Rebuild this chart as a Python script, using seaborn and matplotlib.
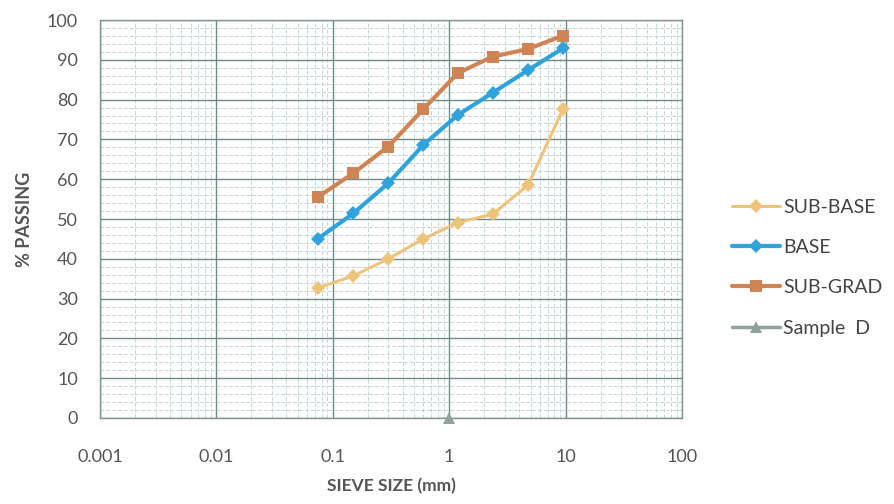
import numpy as np
import pandas as pd
import matplotlib
matplotlib.use("Agg")
import matplotlib.pyplot as plt
from matplotlib.ticker import FixedLocator, MultipleLocator, LogLocator, NullFormatter
import seaborn as sns

# sieve sizes (mm) and % passing
sieve = [0.075, 0.15, 0.3, 0.6, 1.18, 2.36, 4.75, 9.5]
sub_base = [32.7, 35.7, 40.0, 45.0, 49.1, 51.2, 58.5, 77.6]
base = [45.1, 51.4, 59.0, 68.6, 76.1, 81.7, 87.4, 92.9]
sub_grad = [55.6, 61.5, 68.2, 77.6, 86.6, 90.8, 92.7, 96.1]
sample_d_x = [1]
sample_d_y = [0]

x_ticks = [0.001, 0.01, 0.1, 1, 10, 100]
x_tick_labels = ["0.001", "0.01", "0.1", "1", "10", "100"]

sns.set_style("white")
plt.rcParams["font.family"] = ["Lato", "DejaVu Sans"]

fig = plt.figure(figsize=(8.94, 5.04), dpi=100)
ax = fig.add_axes([100 / 894, 86 / 504, 582 / 894, 398 / 504])

series = [
    ("SUB-BASE", sub_base, "#EEC47A", "D", 7),
    ("BASE", base, "#2FA3DA", "D", 7),
    ("SUB-GRAD", sub_grad, "#CF8456", "s", 9),
]
for name, vals, col, mk, ms in series:
    df = pd.DataFrame({"size": sieve, "passing": vals})
    sns.lineplot(data=df, x="size", y="passing", ax=ax, color=col, lw=3 if name != "SUB-BASE" else 2.2,
                 marker=mk, markersize=ms, markeredgewidth=0, label=name)

df_d = pd.DataFrame({"size": sample_d_x, "passing": sample_d_y})
sns.lineplot(data=df_d, x="size", y="passing", ax=ax, color="#8FA39C", lw=2.5,
             marker="^", markersize=9, markeredgewidth=0, label="Sample  D", clip_on=False, zorder=5)

ax.set_xscale("log")
ax.set_xlim(0.001, 100)
ax.set_ylim(0, 100)
ax.xaxis.set_major_locator(FixedLocator(x_ticks))
ax.set_xticklabels(x_tick_labels)
ax.xaxis.set_minor_locator(LogLocator(base=10, subs=np.arange(2, 10)))
ax.xaxis.set_minor_formatter(NullFormatter())
ax.yaxis.set_major_locator(MultipleLocator(10))
ax.yaxis.set_minor_locator(MultipleLocator(2))

ax.grid(which="major", color="#6F8B88", lw=1.0)
ax.grid(which="minor", color="#C6D6D5", lw=0.7, ls=(0, (4, 2)))
ax.set_axisbelow(True)
for s in ax.spines.values():
    s.set_color("#7F9593")
    s.set_linewidth(1.0)

ax.tick_params(which="both", length=0)
ax.tick_params(axis="x", pad=22, labelsize=13, labelcolor="#555555")
ax.tick_params(axis="y", pad=16, labelsize=13, labelcolor="#555555")

ax.set_xlabel("SIEVE SIZE (mm)", fontsize=12.5, fontweight="bold", color="#555555", labelpad=10)
ax.set_ylabel("% PASSING", fontsize=13, fontweight="bold", color="#555555", labelpad=10)

ax.legend(loc="center left", bbox_to_anchor=(1.055, 0.378), frameon=False, fontsize=14,
          labelcolor="#444444", handlelength=2.5, handletextpad=0.15, labelspacing=1.2)

fig.savefig("out.png", dpi=100)
